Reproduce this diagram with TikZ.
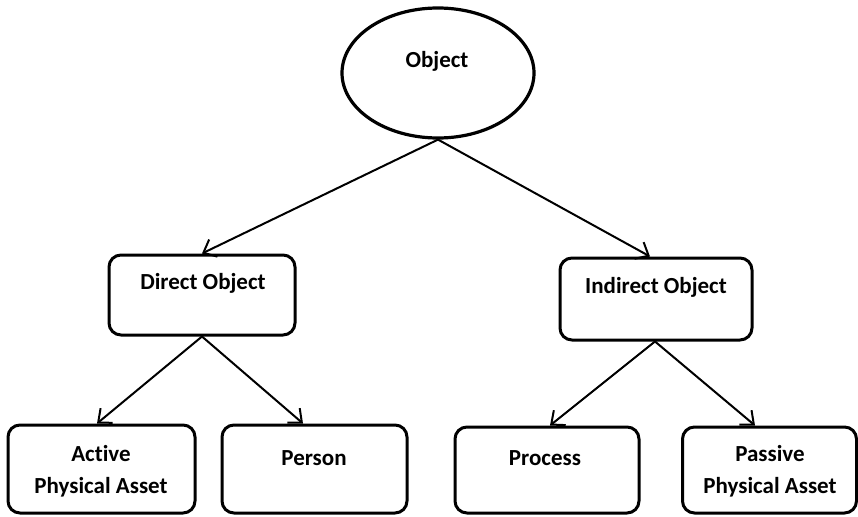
\documentclass[tikz,border=0pt]{standalone}
\usepackage{fontspec}
\setmainfont{Carlito}[Ligatures=NoCommon]
\usetikzlibrary{shapes.geometric,arrows.meta}
\begin{document}
\begin{tikzpicture}[x=1pt,y=-1pt,
  box/.style={draw,line width=3pt,rounded corners=12pt,inner sep=0pt},
  oval/.style={draw,ellipse,line width=3.2pt,inner sep=0pt,minimum width=192pt,minimum height=130pt},
  lbl/.style={font=\fontsize{23}{32}\selectfont\bfseries,align=center,inner sep=0pt},
  arr/.style={line width=2pt,-{Straight Barb[length=11pt,width=19pt,line width=2pt]}}]
  \useasboundingbox (0,0) rectangle (858,516);

  % root
  \node[oval] (obj) at (438,73) {};
  \node[lbl] (objt) at (437,61) {Object};

  % second level
  \node[box,minimum width=186pt,minimum height=80pt] (direct) at (202,295) {};
  \node[lbl] (directt) at (203,283) {Direct Object};
  \node[box,minimum width=192pt,minimum height=82pt] (indirect) at (656,299) {};
  \node[lbl] (indirectt) at (656,287) {Indirect Object};

  % leaves
  \node[box,minimum width=187pt,minimum height=88pt] (active) at (101.5,469) {};
  \node[lbl] (activet) at (101,471) {Active\\Physical Asset};
  \node[box,minimum width=185pt,minimum height=88pt] (person) at (314.5,469) {};
  \node[lbl] (persont) at (314,458) {Person};
  \node[box,minimum width=184pt,minimum height=86pt] (process) at (547,470) {};
  \node[lbl] (processt) at (545,458) {Process};
  \node[box,minimum width=174pt,minimum height=86pt] (passive) at (769.5,470) {};
  \node[lbl] (passivet) at (770,471) {Passive\\Physical Asset};

  % connectors
  \draw[arr] (obj.south) -- (direct.north);
  \draw[arr] (obj.south) -- ([xshift=-6pt]indirect.north);
  \draw[arr] (direct.south) -- ([xshift=-4.5pt]active.north);
  \draw[arr] (direct.south) -- ([xshift=-11.5pt]person.north);
  \draw[arr] ([xshift=-1pt]indirect.south) -- ([xshift=3pt]process.north);
  \draw[arr] ([xshift=-1pt]indirect.south) -- ([xshift=-14.5pt]passive.north);
\end{tikzpicture}
\end{document}
